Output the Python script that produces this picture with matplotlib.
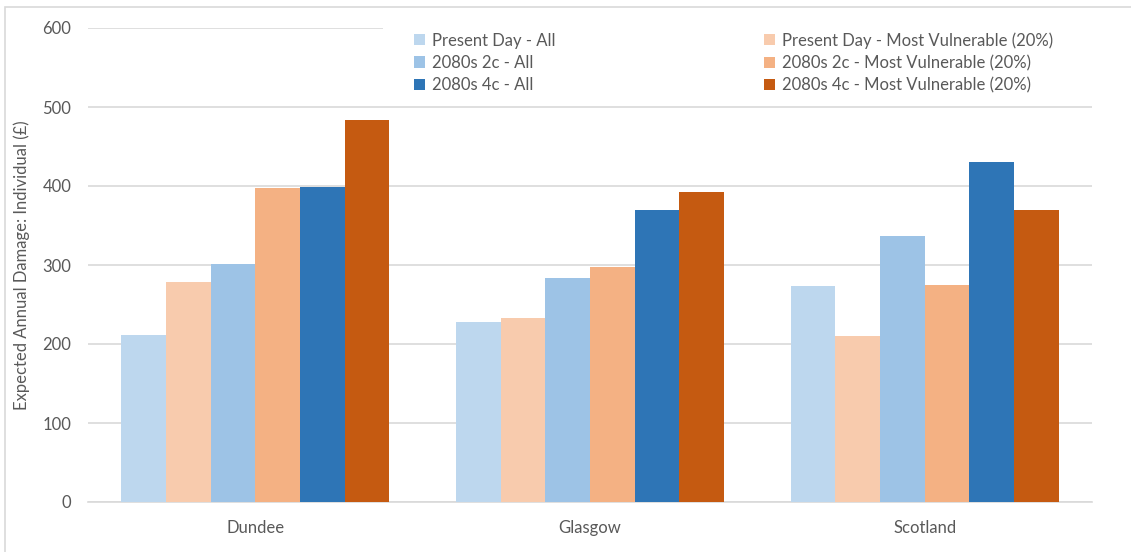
import matplotlib
matplotlib.use("Agg")
import matplotlib.pyplot as plt
import numpy as np
from matplotlib.patches import Rectangle

categories = ["Dundee", "Glasgow", "Scotland"]
series_names = [
    "Present Day - All",
    "Present Day - Most Vulnerable (20%)",
    "2080s 2c - All",
    "2080s 2c - Most Vulnerable (20%)",
    "2080s 4c - All",
    "2080s 4c - Most Vulnerable (20%)",
]
present_all = [212, 228, 273]
present_mv = [279, 233, 210]
c2_all = [301, 283, 337]
c2_mv = [397, 297, 275]
c4_all = [399, 370, 431]
c4_mv = [483, 392, 370]
series_values = [present_all, present_mv, c2_all, c2_mv, c4_all, c4_mv]
colors = ["#BDD7EE", "#F8CBAD", "#9DC3E6", "#F4B183", "#2E75B6", "#C55A11"]
yticks = [0, 100, 200, 300, 400, 500, 600]

plt.rcParams['font.family'] = ['Lato', 'DejaVu Sans']
txt = "#595959"
grid = "#D9D9D9"
FS = 12

fig = plt.figure(figsize=(11.31, 5.52), dpi=100)
W, H = 1131, 552
L, R, T, B = 88, 1092, 28, 502
ax = fig.add_axes([L / W, 1 - B / H, (R - L) / W, (B - T) / H])

x = np.arange(len(categories))
bw = 0.8 / 6
handles = []
for i, (vals, c) in enumerate(zip(series_values, colors)):
    b = ax.bar(x - 0.4 + bw * (i + 0.5), vals, width=bw, color=c, label=series_names[i], zorder=3)
    handles.append(b)

ax.set_xlim(-0.5, 2.5)
ax.set_ylim(0, 600)
ax.set_yticks(yticks)
ax.set_xticks(x)
ax.set_xticklabels(categories)
ax.yaxis.grid(True, color=grid, linewidth=1.2, zorder=0)
ax.set_axisbelow(True)
for s in ["top", "right", "left"]:
    ax.spines[s].set_visible(False)
ax.spines["bottom"].set_color(grid)
ax.spines["bottom"].set_linewidth(1.2)
ax.tick_params(axis="both", length=0, labelsize=FS, colors=txt)
ax.tick_params(axis="y", pad=12)
ax.tick_params(axis="x", pad=13)
ax.set_ylabel("Expected Annual Damage: Individual (£)", fontsize=FS, color=txt)
ax.yaxis.set_label_coords(-(L - 30) / (R - L), 0.5)

# white area behind legend (hides part of top gridline)
ax.add_patch(Rectangle(((383 - L) / (R - L), (B - 100) / (B - T)), 1.0, 0.2,
                       transform=ax.transAxes, facecolor="white", edgecolor="none",
                       zorder=2, clip_on=False))

order = [0, 2, 4, 1, 3, 5]
leg = ax.legend([handles[k] for k in order], [series_names[k] for k in order],
                ncol=2, loc="upper left",
                bbox_to_anchor=((414 - L) / (R - L), (B - 32) / (B - T)),
                frameon=False, fontsize=FS, handlelength=0.65, handleheight=0.65,
                handletextpad=0.45, labelspacing=0.38, columnspacing=12.5,
                borderpad=0.0, borderaxespad=0)
for t in leg.get_texts():
    t.set_color(txt)
leg.set_zorder(5)

# outer chart border
fig.patches.append(Rectangle((5 / W, -0.05), 1.2, 1.05 - 7 / H, transform=fig.transFigure,
                             fill=False, edgecolor="#D9D9D9", linewidth=1.2))

fig.savefig("out.png", dpi=100, facecolor="white")
